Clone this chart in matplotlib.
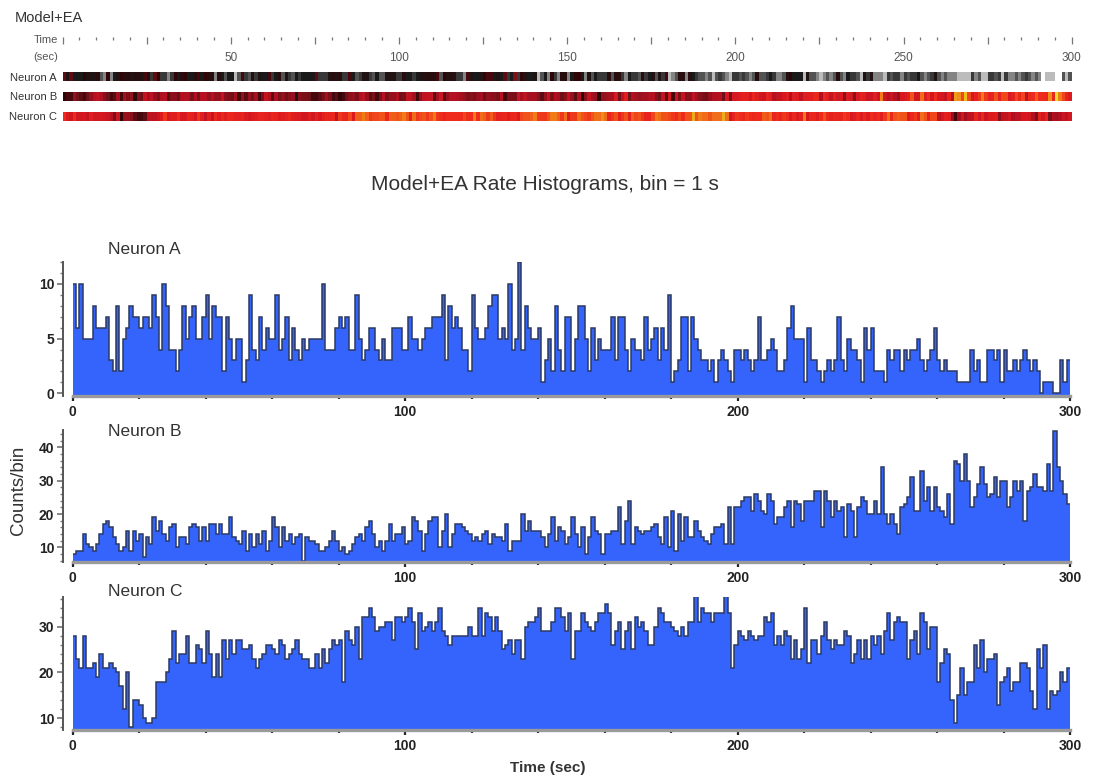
import numpy as np
import matplotlib
matplotlib.use("Agg")
import matplotlib.pyplot as plt
from matplotlib.colors import LinearSegmentedColormap, Normalize
from matplotlib.ticker import MultipleLocator, FuncFormatter

plt.rcParams['font.family'] = ['Liberation Sans', 'DejaVu Sans']

# ---------------- data (counts per 1-s bin, 0..300 s) ----------------
neuron_names = ['Neuron A', 'Neuron B', 'Neuron C']
bin_width = 1
duration = 300

neuron_a = [
    10, 6, 10, 5, 5, 5, 8, 6, 6, 6,
    7, 3, 2, 8, 2, 5, 6, 8, 7, 7,
    6, 7, 7, 6, 9, 7, 4, 10, 8, 4,
    4, 2, 4, 8, 5, 7, 8, 5, 5, 7,
    9, 5, 8, 7, 7, 2, 7, 5, 3, 5,
    5, 1, 3, 9, 4, 3, 7, 4, 6, 5,
    5, 9, 4, 5, 7, 3, 6, 4, 3, 5,
    4, 5, 5, 5, 5, 10, 4, 4, 4, 6,
    7, 6, 7, 4, 4, 9, 5, 3, 4, 6,
    6, 4, 3, 5, 3, 3, 6, 6, 6, 4,
    4, 7, 5, 5, 4, 5, 6, 6, 7, 7,
    7, 9, 3, 8, 6, 7, 6, 4, 4, 2,
    9, 6, 5, 5, 6, 8, 9, 9, 5, 6,
    5, 10, 4, 5, 12, 4, 8, 6, 5, 5,
    6, 1, 3, 5, 2, 8, 4, 2, 7, 7,
    2, 5, 8, 8, 5, 2, 6, 3, 5, 4,
    4, 4, 7, 3, 7, 7, 4, 2, 5, 4,
    4, 3, 7, 4, 5, 6, 3, 6, 4, 9,
    1, 2, 3, 7, 7, 2, 7, 5, 4, 3,
    3, 2, 3, 1, 3, 4, 3, 2, 1, 4,
    4, 3, 4, 3, 2, 3, 7, 3, 3, 4,
    5, 4, 2, 2, 3, 6, 8, 5, 5, 5,
    1, 6, 3, 3, 2, 1, 2, 3, 2, 3,
    7, 3, 2, 5, 4, 4, 3, 1, 6, 4,
    6, 2, 2, 2, 1, 4, 3, 4, 4, 2,
    4, 3, 4, 4, 5, 3, 2, 3, 4, 6,
    3, 2, 3, 2, 2, 2, 1, 1, 1, 1,
    4, 2, 3, 1, 1, 4, 4, 3, 4, 1,
    4, 2, 2, 3, 2, 3, 4, 3, 2, 3,
    2, 0, 1, 1, 1, 0, 0, 3, 1, 3,
]

neuron_b = [
    8, 9, 9, 14, 11, 10, 9, 11, 14, 17,
    18, 16, 13, 11, 9, 10, 15, 9, 15, 12,
    14, 7, 13, 11, 19, 15, 18, 14, 12, 16,
    17, 10, 13, 13, 11, 16, 17, 16, 12, 16,
    12, 17, 17, 14, 17, 14, 14, 19, 13, 12,
    11, 15, 9, 14, 10, 14, 11, 15, 9, 12,
    19, 16, 10, 16, 12, 14, 11, 13, 14, 6,
    13, 12, 12, 11, 9, 9, 10, 12, 15, 12,
    9, 10, 8, 9, 11, 13, 14, 12, 16, 18,
    14, 10, 12, 9, 12, 17, 12, 14, 14, 16,
    11, 12, 19, 18, 15, 9, 14, 18, 19, 19,
    10, 15, 20, 10, 14, 17, 17, 16, 15, 14,
    12, 13, 12, 14, 15, 11, 14, 13, 13, 12,
    17, 9, 12, 12, 12, 20, 15, 18, 15, 15,
    15, 13, 10, 14, 19, 12, 16, 15, 11, 13,
    19, 14, 10, 16, 8, 13, 19, 15, 14, 8,
    14, 14, 15, 15, 22, 11, 18, 24, 11, 16,
    15, 14, 15, 15, 16, 17, 13, 11, 19, 10,
    21, 9, 20, 12, 19, 13, 13, 18, 15, 13,
    12, 11, 14, 16, 16, 17, 11, 22, 11, 22,
    22, 24, 25, 25, 21, 26, 24, 21, 20, 26,
    24, 17, 19, 19, 22, 24, 16, 24, 23, 18,
    24, 24, 24, 27, 27, 16, 27, 24, 19, 24,
    21, 22, 13, 23, 21, 13, 22, 25, 24, 20,
    20, 24, 20, 34, 20, 17, 20, 17, 14, 22,
    23, 25, 31, 21, 21, 33, 24, 28, 21, 28,
    22, 21, 19, 26, 17, 36, 35, 30, 38, 30,
    22, 25, 29, 34, 29, 25, 26, 31, 25, 30,
    30, 22, 25, 30, 27, 30, 18, 27, 28, 32,
    28, 28, 27, 35, 27, 45, 34, 30, 26, 23,
]

neuron_c = [
    28, 23, 21, 28, 21, 21, 22, 19, 24, 21,
    21, 22, 21, 20, 17, 12, 20, 8, 14, 14,
    13, 10, 9, 9, 10, 18, 18, 18, 20, 23,
    29, 22, 24, 24, 28, 22, 22, 26, 25, 22,
    29, 24, 19, 24, 19, 27, 23, 27, 24, 27,
    27, 25, 25, 26, 23, 21, 23, 24, 26, 26,
    25, 24, 27, 26, 23, 24, 25, 27, 24, 23,
    23, 21, 21, 24, 21, 25, 22, 25, 27, 26,
    27, 18, 29, 27, 26, 30, 23, 32, 32, 34,
    32, 29, 30, 30, 31, 31, 27, 32, 32, 31,
    32, 34, 31, 25, 33, 29, 30, 31, 29, 31,
    34, 29, 28, 26, 28, 28, 28, 28, 28, 30,
    28, 28, 34, 28, 33, 32, 29, 32, 29, 25,
    26, 27, 24, 27, 27, 23, 30, 31, 31, 32,
    34, 29, 29, 29, 31, 34, 34, 32, 29, 33,
    23, 29, 29, 33, 31, 30, 29, 31, 33, 33,
    35, 33, 26, 29, 31, 25, 29, 31, 25, 32,
    30, 31, 29, 26, 26, 30, 34, 33, 31, 31,
    30, 29, 28, 30, 28, 31, 31, 37, 31, 34,
    33, 33, 31, 33, 33, 33, 37, 33, 21, 26,
    29, 28, 27, 29, 28, 27, 28, 28, 32, 31,
    33, 26, 28, 26, 29, 28, 23, 27, 23, 25,
    34, 22, 27, 27, 24, 28, 31, 27, 25, 27,
    26, 26, 29, 28, 22, 24, 27, 23, 27, 23,
    28, 26, 28, 24, 29, 33, 27, 31, 32, 31,
    31, 23, 27, 29, 24, 33, 31, 25, 30, 30,
    18, 22, 25, 24, 14, 9, 15, 21, 15, 18,
    18, 26, 21, 27, 20, 23, 23, 24, 13, 18,
    19, 21, 16, 18, 18, 22, 22, 21, 16, 12,
    25, 21, 26, 12, 16, 15, 16, 20, 18, 21,
]

series = [neuron_a, neuron_b, neuron_c]
edges = np.arange(0, duration + bin_width, bin_width)

# ---------------- figure ----------------
W, H = 1094, 779
fig = plt.figure(figsize=(W / 100, H / 100), dpi=100)


def ax_at(l, t, r, b):
    return fig.add_axes([l / W, 1 - b / H, (r - l) / W, (b - t) / H])


TXT = '#333333'

# --- header
fig.text(15 / W, 1 - 18 / H, 'Model+EA', ha='left', va='center', fontsize=10.5, color=TXT)
fig.text(58 / W, 1 - 40 / H, 'Time', ha='right', va='center', fontsize=8, color='#555555')
fig.text(58 / W, 1 - 57 / H, '(sec)', ha='right', va='center', fontsize=8, color='#555555')

# --- time ruler
axr = ax_at(62.5, 36.5, 1071.7, 43)
axr.set_xlim(0, duration)
axr.set_yticks([])
for s in axr.spines.values():
    s.set_visible(False)
axr.xaxis.set_major_locator(MultipleLocator(25))
axr.xaxis.set_minor_locator(MultipleLocator(5))
axr.xaxis.set_major_formatter(FuncFormatter(lambda v, p: f'{int(v)}' if (v > 0 and v % 50 == 0) else ''))
axr.tick_params(axis='x', which='both', direction='in', top=True, bottom=False,
                labeltop=False, labelbottom=True, color='#777777')
axr.tick_params(axis='x', which='major', length=4.7, width=0.9, pad=6.5,
                labelsize=8.5, labelcolor='#555555')
axr.tick_params(axis='x', which='minor', length=2.3, width=0.9)
axr.patch.set_alpha(0)

# --- raster (colour-coded bins)
cmap = LinearSegmentedColormap.from_list('rate', [
    (0.0, '#ffffff'), (0.025, '#b8b8b8'), (0.0625, '#606060'), (0.125, '#1a1a1a'),
    (0.2, '#300508'), (0.275, '#701018'), (0.4, '#b01020'), (0.55, '#d81820'),
    (0.7, '#ee2a1c'), (0.85, '#f07a18'), (1.0, '#e8e020')])
norm = Normalize(0, 40)
axc = ax_at(62.5, 72, 1071.7, 121)
for i, vals in enumerate(series):
    axc.pcolormesh(edges, [i - 0.23, i + 0.23], np.array(vals)[None, :], cmap=cmap, norm=norm)
axc.set_xlim(0, duration)
axc.set_ylim(2.25, -0.25)
axc.set_xticks([])
axc.set_yticks(range(3))
axc.set_yticklabels(neuron_names)
axc.tick_params(axis='y', length=0, pad=4, labelsize=8, labelcolor=TXT)
for s in axc.spines.values():
    s.set_visible(False)

# --- title
fig.text(545 / W, 1 - 185 / H, 'Model+EA Rate Histograms, bin = 1 s', ha='center', va='center',
         fontsize=15, color=TXT)

# --- histograms
hist_boxes = [(262, 396), (430, 562), (596.7, 730)]
ylims = [(-0.25, 12.0), (5.6, 45.2), (7.45, 36.5)]
ymaj = [5, 10, 10]
ymin = [1, 2, 2]
label_y = [250, 432, 592]
BLUE = '#3464fc'

for vals, (t, b), yl, mj, mn, name, ly in zip(series, hist_boxes, ylims, ymaj, ymin, neuron_names, label_y):
    ax = ax_at(72.7, t, 1070, b)
    ax.stairs(vals, edges, baseline=None, color='white', lw=3.2, zorder=1)
    ax.stairs(vals, edges, baseline=-50, fill=True, color=BLUE, zorder=2)
    ax.stairs(vals, edges, baseline=None, color='#2c3a62', lw=1.1, zorder=3)
    ax.set_xlim(0, duration)
    ax.set_ylim(*yl)
    ax.spines['top'].set_visible(False)
    ax.spines['right'].set_visible(False)
    ax.spines['left'].set_position(('outward', 6.8))
    ax.spines['left'].set_color('#555555')
    ax.spines['left'].set_linewidth(1.4)
    ax.spines['bottom'].set_color('#9a9a9a')
    ax.spines['bottom'].set_linewidth(2.4)
    ax.spines['bottom'].set_zorder(4)
    ax.xaxis.set_major_locator(MultipleLocator(100))
    ax.xaxis.set_minor_locator(MultipleLocator(20))
    ax.yaxis.set_major_locator(MultipleLocator(mj))
    ax.yaxis.set_minor_locator(MultipleLocator(mn))
    ax.tick_params(axis='x', which='major', length=3.8, width=1.6, color='#222222', pad=2.5,
                   labelsize=10, labelcolor='#222222')
    ax.tick_params(axis='x', which='minor', length=2.2, width=1.6, color='#222222')
    ax.tick_params(axis='y', which='major', length=4.5, width=1.1, color='#666666', pad=2,
                   labelsize=10, labelcolor='#222222')
    ax.tick_params(axis='y', which='minor', length=2.4, width=1.0, color='#777777')
    for lab in ax.get_xticklabels() + ax.get_yticklabels():
        lab.set_fontweight('bold')
    fig.text(108 / W, 1 - ly / H, name, ha='left', va='center', fontsize=12.5, color=TXT)

fig.text(19 / W, 1 - 490 / H, 'Counts/bin', rotation=90, ha='center', va='center',
         fontsize=13.5, color=TXT)
fig.text(548 / W, 1 - 768 / H, 'Time (sec)', ha='center', va='center', fontsize=11,
         fontweight='bold', color=TXT)

fig.savefig('out.png', dpi=100)
